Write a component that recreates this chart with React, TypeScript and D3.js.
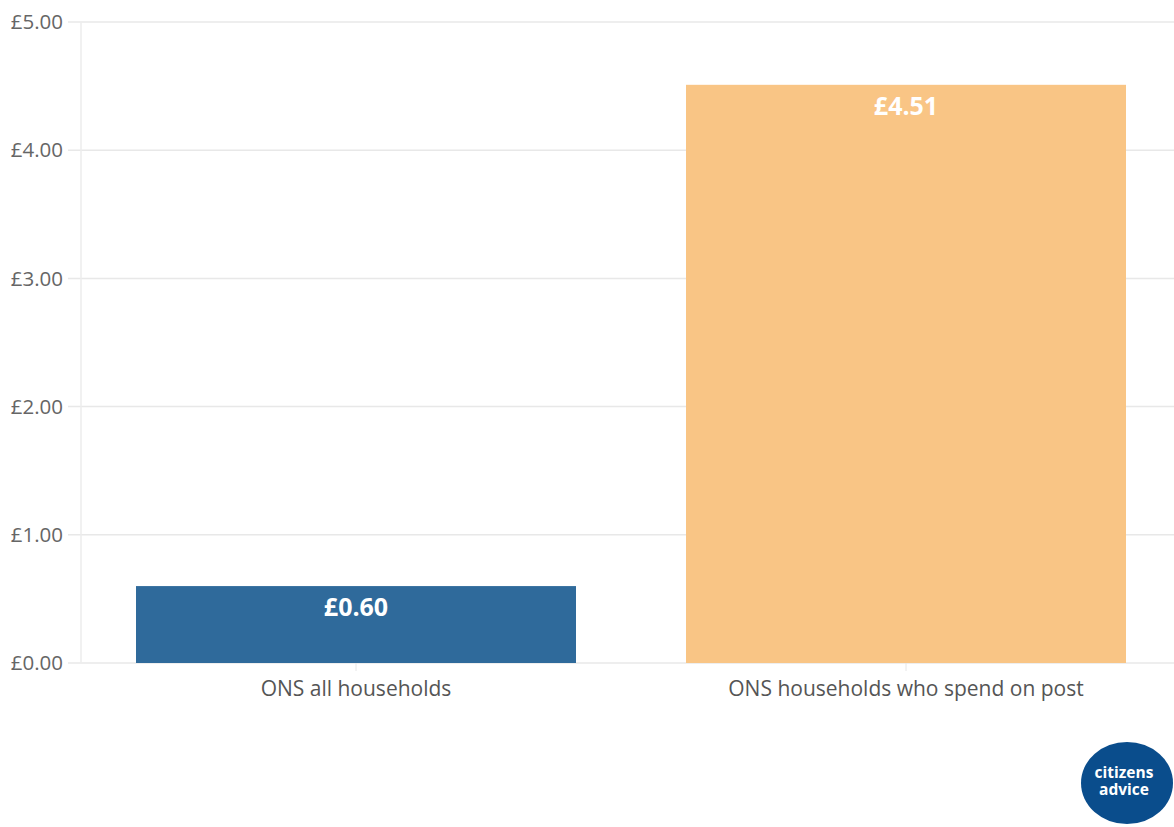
import React from "react";
import * as d3 from "d3";

const categories = ["ONS all households", "ONS households who spend on post"];
const values = [0.6, 4.51];
const valueLabels = ["£0.60", "£4.51"];
const barColors = ["#2f6a9b", "#f9c585"];
const yTicks = [0, 1, 2, 3, 4, 5];

const W = 1174;
const H = 827;
const margin = { top: 22, left: 81, right: -7, bottom: 164 };

export default function App() {
  const x = d3
    .scaleBand<string>()
    .domain(categories)
    .range([margin.left, W - margin.right])
    .paddingInner(0.2)
    .paddingOuter(0.1);
  const y = d3.scaleLinear().domain([0, 5]).range([H - margin.bottom, margin.top]);
  const font = "'Open Sans', 'Noto Sans', sans-serif";

  return (
    <svg
      width={W}
      height={H}
      style={{ position: "absolute", left: 0, top: 0, background: "#fff" }}
      fontFamily={font}
    >
      {yTicks.map((t) => (
        <g key={t}>
          <line x1={68} x2={W} y1={y(t)} y2={y(t)} stroke="#e8e8e8" strokeWidth={1.5} />
          <text x={63} y={y(t)} dy="0.35em" textAnchor="end" fontSize={20.5} fill="#666">
            {"£" + d3.format(".2f")(t)}
          </text>
        </g>
      ))}
      <line x1={margin.left} x2={margin.left} y1={y(5)} y2={y(0)} stroke="#ececec" strokeWidth={1.5} />
      {categories.map((c, i) => {
        const bx = x(c)!;
        const bw = x.bandwidth();
        const cx = bx + bw / 2;
        return (
          <g key={c}>
            <rect x={bx} y={y(values[i])} width={bw} height={y(0) - y(values[i])} fill={barColors[i]} />
            <text
              x={cx}
              y={y(values[i]) + 21}
              dy="0.35em"
              textAnchor="middle"
              fontSize={25}
              fontWeight="bold"
              fill="#fff"
            >
              {valueLabels[i]}
            </text>
            <line x1={cx} x2={cx} y1={y(0)} y2={y(0) + 8} stroke="#e6e6e6" strokeWidth={1} />
            <text x={cx} y={y(0) + 26} dy="0.35em" textAnchor="middle" fontSize={21} fill="#555">
              {c}
            </text>
          </g>
        );
      })}
      <g transform="translate(1127,783)">
        <ellipse rx={46} ry={41} fill="#0a4d8c" />
        <text x={-3} y={-10} dy="0.35em" textAnchor="middle" fontSize={15.5} fontWeight="bold" fill="#fff">
          citizens
        </text>
        <text x={-3} y={7} dy="0.35em" textAnchor="middle" fontSize={15.5} fontWeight="bold" fill="#fff">
          advice
        </text>
      </g>
    </svg>
  );
}
